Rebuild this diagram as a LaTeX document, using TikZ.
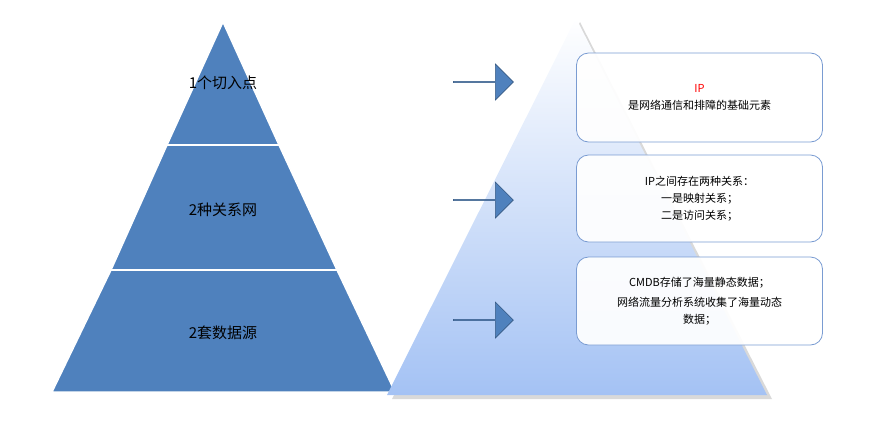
\documentclass[tikz,border=0pt]{standalone}
\usepackage{fontspec}
\setmainfont{Noto Sans CJK SC}
\usepackage{tikz}
\usetikzlibrary{shapes.arrows}
\definecolor{pyrblue}{HTML}{4F81BD}
\definecolor{pyrlight}{HTML}{A4C2F4}
\definecolor{boxline}{HTML}{7A9CD2}
\tikzset{
    band/.style={fill=pyrblue, draw=white, line width=1.5pt},
    bandtext/.style={font=\fontsize{15}{15}\selectfont, text=black},
    infobox/.style={draw=boxline, line width=0.8pt, fill=white, fill opacity=0.93, text opacity=1,
        rounded corners=12pt, minimum width=246pt, align=center, font=\fontsize{11}{17}\selectfont, inner sep=0pt},
    blockarrow/.style={single arrow, fill=pyrblue, draw=pyrblue!70!black, line width=0.6pt,
        minimum width=36pt, single arrow head extend=8pt, single arrow tip angle=90, minimum height=60pt, inner sep=0pt}
}
\begin{document}
\begin{tikzpicture}[x=1pt, y=-1pt]
    \useasboundingbox (0,0) rectangle (884,445);

    % left pyramid
    \fill[band] (223,22) -- (167,145) -- (279,145) -- cycle;
    \fill[band] (167,145) -- (111,270) -- (337,270) -- (279,145) -- cycle;
    \fill[band] (111,270) -- (52,392) -- (395,392) -- (337,270) -- cycle;
    \draw[white, line width=2pt] (167,145) -- (279,145);
    \draw[white, line width=2pt] (111,270) -- (337,270);
    \node[bandtext] (lvl1) at (223,83) {1个切入点};
    \node[bandtext] (lvl2) at (223,210) {2种关系网};
    \node[bandtext] (lvl3) at (223,333) {2套数据源};

    % right triangle with shadow
    \fill[black!15] (580,22) -- (392,399) -- (772,399) -- cycle;
    \shade[top color=white, bottom color=pyrlight] (576,18) -- (387,395) -- (767,395) -- cycle;

    % arrows
    \node[blockarrow] (arr1) at (483,82) {};
    \node[blockarrow] (arr2) at (483,200) {};
    \node[blockarrow] (arr3) at (483,320) {};

    % text boxes
    \node[infobox, minimum height=89pt] (box1) at (699.5,97.5) {{\color{red}IP}\\是网络通信和排障的基础元素};
    \node[infobox, minimum height=87pt] (box2) at (699.5,198.5) {IP之间存在两种关系：\\一是映射关系；\\二是访问关系；};
    \node[infobox, minimum height=88pt] (box3) at (699.5,301) {CMDB存储了海量静态数据；\\[3pt]网络流量分析系统收集了海量动态\\数据；};
\end{tikzpicture}
\end{document}
